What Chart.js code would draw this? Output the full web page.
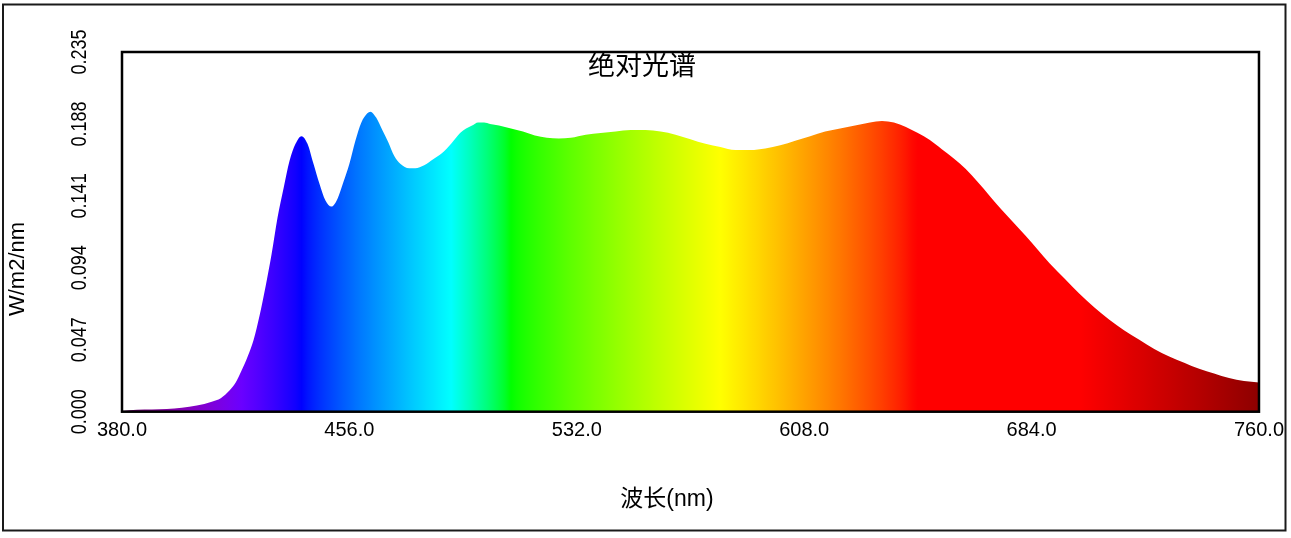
<!DOCTYPE html>
<html>
<head>
<meta charset="utf-8">
<title>绝对光谱</title>
<script src="https://cdn.jsdelivr.net/npm/chart.js@4/dist/chart.umd.min.js"></script>
<style>
  html, body { margin: 0; padding: 0; background: #fff; }
  canvas { display: block; }
</style>
</head>
<body>
<canvas id="spec" width="1291" height="538"></canvas>
<script>
// wavelength (nm) and absolute irradiance (W/m2/nm)
const wavelengths = [
  380, 385, 390, 395, 400, 405, 410, 413, 416, 418, 420, 422, 424, 426, 428, 430,
  432, 434, 436, 438, 440, 442, 444, 446, 448, 450, 452, 454, 456, 458, 460, 462,
  463, 465, 467, 469, 471, 473, 476, 478, 481, 484, 487, 490, 493, 495, 497, 499,
  501, 503, 506, 510, 514, 518, 522, 526, 530, 535, 540, 545, 550, 555, 560, 565,
  570, 575, 580, 585, 590, 595, 600, 605, 610, 615, 620, 625, 630, 634, 638, 642,
  646, 650, 654, 658, 662, 666, 670, 674, 678, 682, 686, 690, 695, 700, 705, 710,
  715, 720, 725, 730, 735, 740, 745, 750, 755, 760
];
const irradiance = [
  0.0005, 0.0012, 0.0014, 0.0018, 0.0025, 0.0040, 0.0065, 0.0088, 0.014, 0.019, 0.027, 0.036, 0.047, 0.063, 0.082, 0.103,
  0.127, 0.146, 0.164, 0.175, 0.180, 0.175, 0.162, 0.149, 0.138, 0.134, 0.139, 0.150, 0.162, 0.177, 0.189, 0.195,
  0.196, 0.192, 0.184, 0.176, 0.167, 0.162, 0.159, 0.159, 0.161, 0.165, 0.169, 0.175, 0.182, 0.185, 0.187, 0.189,
  0.189, 0.188, 0.187, 0.185, 0.183, 0.1805, 0.179, 0.1785, 0.179, 0.181, 0.182, 0.183, 0.184, 0.184, 0.183, 0.181,
  0.178, 0.175, 0.173, 0.171, 0.171, 0.172, 0.174, 0.177, 0.180, 0.183, 0.185, 0.187, 0.189, 0.190, 0.189, 0.186,
  0.182, 0.1775, 0.1715, 0.1655, 0.1585, 0.150, 0.141, 0.132, 0.1235, 0.115, 0.106, 0.097, 0.087, 0.077, 0.068, 0.060,
  0.053, 0.047, 0.041, 0.036, 0.032, 0.028, 0.025, 0.022, 0.020, 0.019
];
const xTicks = [380.0, 456.0, 532.0, 608.0, 684.0, 760.0];
const yTicks = [0.000, 0.047, 0.094, 0.141, 0.188, 0.235];

const chartTitle = '绝对光谱';
const xTitle = '波长(nm)';
const yTitle = 'W/m2/nm';

// visible spectrum colour for a wavelength (Bruton style)
function spectrumColor(w) {
  let r = 0, g = 0, b = 0;
  if (w < 440) { r = -(w - 440) / 60; b = 1; }
  else if (w < 490) { g = (w - 440) / 50; b = 1; }
  else if (w < 510) { g = 1; b = -(w - 510) / 20; }
  else if (w < 580) { r = (w - 510) / 70; g = 1; }
  else if (w < 645) { r = 1; g = -(w - 645) / 65; }
  else { r = 1; }
  let f = 1;
  if (w < 420) f = 0.3 + 0.7 * (w - 380) / 40;
  else if (w > 700) f = 0.3 + 0.7 * (780 - w) / 80;
  const c = v => Math.round(255 * Math.pow(v * f, 0.8));
  return `rgb(${c(r)},${c(g)},${c(b)})`;
}

const spectrumFill = ctx => {
  const chart = ctx.chart;
  const xs = chart.scales.x;
  if (!chart.chartArea || !xs) return 'rgba(0,0,0,0)';
  const x0 = xs.getPixelForValue(380), x1 = xs.getPixelForValue(760);
  const grad = chart.ctx.createLinearGradient(x0, 0, x1, 0);
  for (let w = 380; w <= 760; w += 2) grad.addColorStop((w - 380) / 380, spectrumColor(w));
  return grad;
};

const decor = {
  id: 'decor',
  afterDraw(chart) {
    const c = chart.ctx;
    const a = chart.chartArea;
    const ys = chart.scales.y;
    c.save();
    // outer frame
    c.strokeStyle = '#1a1a1a';
    c.lineWidth = 2;
    c.strokeRect(3, 4.5, 1282.5, 526);
    // plot frame
    c.strokeStyle = '#000';
    c.lineWidth = 2.5;
    c.strokeRect(a.left, a.top, a.right - a.left, a.bottom - a.top);

    c.fillStyle = '#000';
    // y tick labels, rotated
    yTicks.forEach(v => {
      const py = ys.getPixelForValue(v);
      c.save();
      c.translate(80, py);
      c.rotate(-Math.PI / 2);
      c.scale(1, 1.25);
      c.font = '18px "Liberation Sans", Arial, sans-serif';
      c.textAlign = 'center';
      c.textBaseline = 'middle';
      c.fillText(v.toFixed(3), 0, 0);
      c.restore();
    });
    // y axis title
    c.save();
    c.translate(18, 269);
    c.rotate(-Math.PI / 2);
    c.font = '22px "Liberation Sans", Arial, sans-serif';
    c.textAlign = 'center';
    c.textBaseline = 'middle';
    c.fillText(yTitle, 0, 0);
    c.restore();
    // chart title inside plot
    c.font = '27px "Noto Sans CJK SC", sans-serif';
    c.textAlign = 'center';
    c.textBaseline = 'middle';
    c.fillText(chartTitle, 642, 65);
    // x axis title
    c.font = '23px "Liberation Sans", "Noto Sans CJK SC", sans-serif';
    c.fillText(xTitle, 667, 500);
    c.restore();
  }
};

new Chart(document.getElementById('spec'), {
  type: 'line',
  data: {
    datasets: [{
      data: wavelengths.map((w, i) => ({ x: w, y: irradiance[i] })),
      fill: 'origin',
      backgroundColor: spectrumFill,
      borderWidth: 0,
      pointRadius: 0,
      cubicInterpolationMode: 'monotone'
    }]
  },
  options: {
    responsive: false,
    animation: false,
    layout: { padding: { left: 0, top: 52, right: 29.5, bottom: 0 } },
    plugins: { legend: { display: false }, tooltip: { enabled: false } },
    scales: {
      x: {
        type: 'linear',
        min: 380, max: 760,
        afterBuildTicks: s => { s.ticks = xTicks.map(v => ({ value: v })); },
        afterFit: s => { s.height = 126.3; },
        grid: { display: false, drawTicks: false },
        border: { display: false },
        ticks: {
          autoSkip: false,
          maxRotation: 0,
          padding: 7,
          color: '#000',
          font: { family: '"Liberation Sans", Arial, sans-serif', size: 20 },
          callback: v => Number(v).toFixed(1)
        }
      },
      y: {
        type: 'linear',
        min: 0, max: 0.235,
        afterBuildTicks: s => { s.ticks = yTicks.map(v => ({ value: v })); },
        afterFit: s => { s.width = 122; },
        grid: { display: false, drawTicks: false },
        border: { display: false },
        ticks: { display: false }
      }
    }
  },
  plugins: [decor]
});
</script>
</body>
</html>
